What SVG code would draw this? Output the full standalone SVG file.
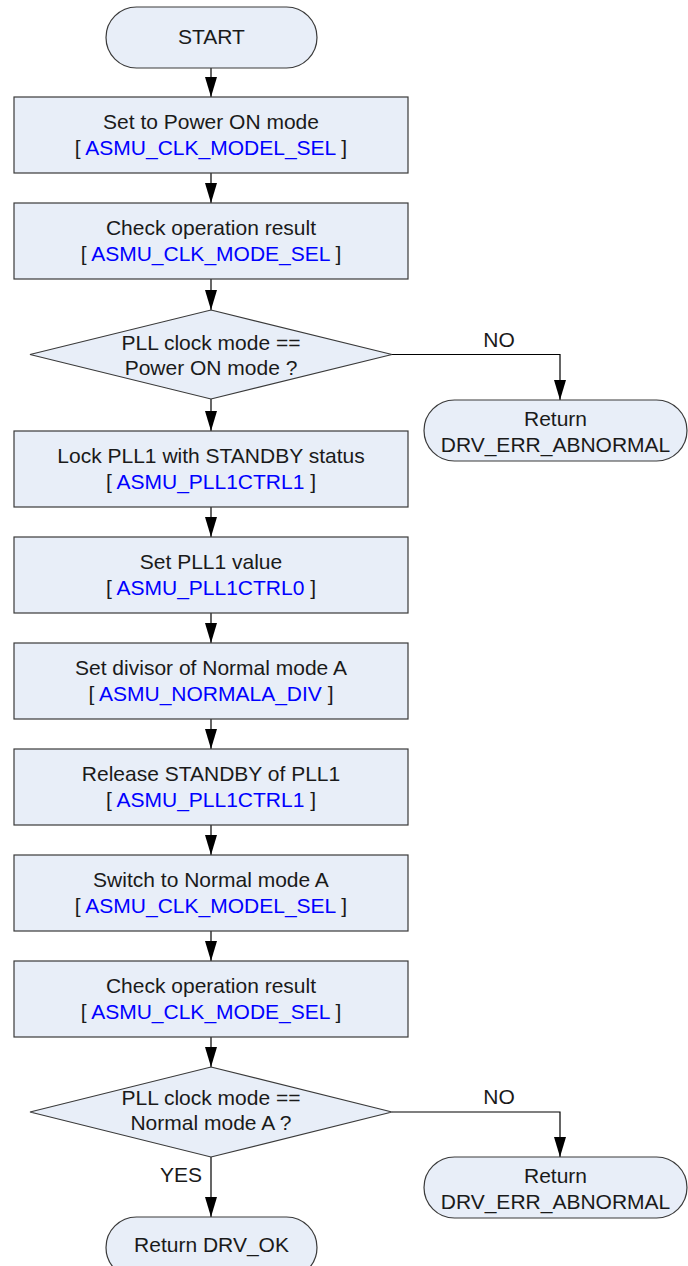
<svg xmlns="http://www.w3.org/2000/svg" width="688" height="1266" viewBox="0 0 688 1266">
  <defs>
    <style>
      .shape { fill: #E8EEF8; stroke: #3a3a3a; stroke-width: 1.2; }
      .conn { fill: none; stroke: #000; stroke-width: 1.2; }
      text { font-family: "Liberation Sans", Arial, sans-serif; font-size: 21px; fill: #1a1a1a; text-anchor: middle; }
      .reg { fill: #0000FF; }
    </style>
    <marker id="arrow" markerUnits="userSpaceOnUse" markerWidth="20" markerHeight="12" refX="20" refY="6" orient="auto" viewBox="0 0 20 12">
      <path d="M0,0 L20,6 L0,12 Z" fill="#000"/>
    </marker>
  </defs>
  <rect width="688" height="1266" fill="#fff"/>

  <!-- connectors -->
  <g id="connectors">
    <line class="conn" x1="211" y1="68" x2="211" y2="97" marker-end="url(#arrow)"/>
    <line class="conn" x1="211" y1="173" x2="211" y2="203" marker-end="url(#arrow)"/>
    <line class="conn" x1="211" y1="279" x2="211" y2="310" marker-end="url(#arrow)"/>
    <line class="conn" x1="211" y1="399" x2="211" y2="431" marker-end="url(#arrow)"/>
    <polyline class="conn" points="392,354.5 560,354.5 560,400" marker-end="url(#arrow)"/>
    <line class="conn" x1="211" y1="507" x2="211" y2="537" marker-end="url(#arrow)"/>
    <line class="conn" x1="211" y1="613" x2="211" y2="643" marker-end="url(#arrow)"/>
    <line class="conn" x1="211" y1="719" x2="211" y2="749" marker-end="url(#arrow)"/>
    <line class="conn" x1="211" y1="825" x2="211" y2="855" marker-end="url(#arrow)"/>
    <line class="conn" x1="211" y1="931" x2="211" y2="961" marker-end="url(#arrow)"/>
    <line class="conn" x1="211" y1="1037" x2="211" y2="1067" marker-end="url(#arrow)"/>
    <polyline class="conn" points="392,1112 560,1112 560,1157" marker-end="url(#arrow)"/>
    <line class="conn" x1="211" y1="1157" x2="211" y2="1217" marker-end="url(#arrow)"/>
    <text x="499" y="347">NO</text>
    <text x="499" y="1104">NO</text>
    <text x="181" y="1182">YES</text>
  </g>

  <g id="start">
    <rect class="shape" x="106" y="7" width="211" height="61" rx="30.5" ry="30.5"/>
    <text x="211.5" y="44">START</text>
  </g>

  <g id="set-power-on">
    <rect class="shape" x="14" y="97" width="394" height="76"/>
    <text x="211" y="129">Set to Power ON mode</text>
    <text x="211" y="155">[ <tspan class="reg">ASMU_CLK_MODEL_SEL</tspan> ]</text>
  </g>

  <g id="check-result-1">
    <rect class="shape" x="14" y="203" width="394" height="76"/>
    <text x="211" y="235">Check operation result</text>
    <text x="211" y="261">[ <tspan class="reg">ASMU_CLK_MODE_SEL</tspan> ]</text>
  </g>

  <g id="decision-power-on">
    <polygon class="shape" points="211,310 392,354.5 211,399 30,354.5"/>
    <text x="211" y="349.5">PLL clock mode ==</text>
    <text x="211" y="374.5">Power ON mode ?</text>
  </g>

  <g id="return-error-1">
    <rect class="shape" x="424" y="400" width="263" height="61" rx="30.5" ry="30.5"/>
    <text x="555.5" y="425.5">Return</text>
    <text x="555.5" y="451.5">DRV_ERR_ABNORMAL</text>
  </g>

  <g id="lock-pll1">
    <rect class="shape" x="14" y="431" width="394" height="76"/>
    <text x="211" y="463">Lock PLL1 with STANDBY status</text>
    <text x="211" y="489">[ <tspan class="reg">ASMU_PLL1CTRL1</tspan> ]</text>
  </g>

  <g id="set-pll1-value">
    <rect class="shape" x="14" y="537" width="394" height="76"/>
    <text x="211" y="569">Set PLL1 value</text>
    <text x="211" y="595">[ <tspan class="reg">ASMU_PLL1CTRL0</tspan> ]</text>
  </g>

  <g id="set-divisor">
    <rect class="shape" x="14" y="643" width="394" height="76"/>
    <text x="211" y="675">Set divisor of Normal mode A</text>
    <text x="211" y="701">[ <tspan class="reg">ASMU_NORMALA_DIV</tspan> ]</text>
  </g>

  <g id="release-standby">
    <rect class="shape" x="14" y="749" width="394" height="76"/>
    <text x="211" y="781">Release STANDBY of PLL1</text>
    <text x="211" y="807">[ <tspan class="reg">ASMU_PLL1CTRL1</tspan> ]</text>
  </g>

  <g id="switch-normal-a">
    <rect class="shape" x="14" y="855" width="394" height="76"/>
    <text x="211" y="887">Switch to Normal mode A</text>
    <text x="211" y="913">[ <tspan class="reg">ASMU_CLK_MODEL_SEL</tspan> ]</text>
  </g>

  <g id="check-result-2">
    <rect class="shape" x="14" y="961" width="394" height="76"/>
    <text x="211" y="993">Check operation result</text>
    <text x="211" y="1019">[ <tspan class="reg">ASMU_CLK_MODE_SEL</tspan> ]</text>
  </g>

  <g id="decision-normal-a">
    <polygon class="shape" points="211,1067 392,1112 211,1157 30,1112"/>
    <text x="211" y="1105">PLL clock mode ==</text>
    <text x="211" y="1130">Normal mode A ?</text>
  </g>

  <g id="return-error-2">
    <rect class="shape" x="424" y="1157" width="263" height="61" rx="30.5" ry="30.5"/>
    <text x="555.5" y="1182.5">Return</text>
    <text x="555.5" y="1208.5">DRV_ERR_ABNORMAL</text>
  </g>

  <g id="return-ok">
    <rect class="shape" x="106" y="1217" width="211" height="61" rx="30.5" ry="30.5"/>
    <text x="211.5" y="1252">Return DRV_OK</text>
  </g>
</svg>
